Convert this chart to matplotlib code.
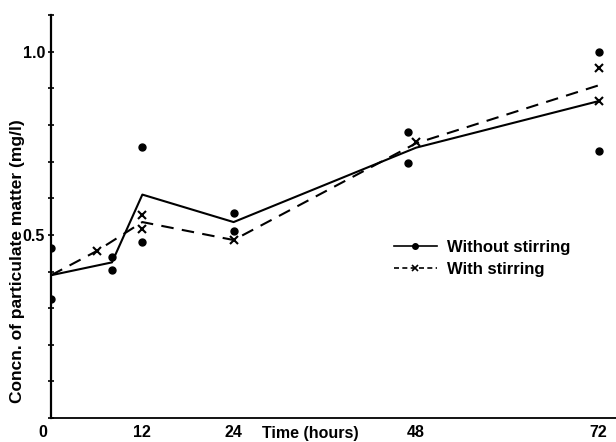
import numpy as np
import matplotlib.pyplot as plt
import matplotlib.transforms as mtransforms
from matplotlib.ticker import MultipleLocator

# =========================
# DATA
# =========================

# individual measurements, without stirring (dots)
dot_hours = [0, 0, 8, 8, 12, 12, 24, 24, 47, 47, 72, 72]
dot_conc = [0.465, 0.325, 0.44, 0.405, 0.74, 0.48, 0.56, 0.51, 0.78, 0.695, 1.0, 0.73]

# individual measurements, with stirring (crosses)
cross_hours = [6, 12, 12, 24, 48, 72, 72]
cross_conc = [0.456, 0.555, 0.516, 0.486, 0.754, 0.956, 0.866]

# mean lines
solid_hours = [0, 8, 12, 24, 48, 72]
solid_conc = [0.39, 0.425, 0.61, 0.535, 0.738, 0.865]

dashed_hours = [0, 6, 12, 24, 48, 72]
dashed_conc = [0.39, 0.456, 0.535, 0.486, 0.75, 0.908]

x_ticks = [0, 12, 24, 48, 72]
y_ticks = [0, 0.5, 1.0]
y_tick_labels = ["", "0.5", "1.0"]

# =========================
# PLOT
# =========================

plt.rcParams['font.family'] = ['Liberation Sans', 'DejaVu Sans']
plt.rcParams['font.weight'] = 'bold'

fig = plt.figure(figsize=(6.16, 4.42), dpi=100)
ax = fig.add_axes([0.083, 0.054, 0.917, 0.912])

ax.plot(solid_hours, solid_conc, color='black', lw=1.5)
ax.plot(dashed_hours, dashed_conc, color='black', lw=1.5, dashes=(6, 4))
ax.plot(dot_hours, dot_conc, 'o', color='black', ms=5, ls='none')
ax.plot(cross_hours, cross_conc, 'x', color='black', ms=6, mew=1.5, ls='none')

# legend handles
h1, = ax.plot([], [], color='black', lw=1.2, marker='o', ms=4)
h2, = ax.plot([], [], color='black', lw=1.2, marker='x', ms=5, mew=1.2, dashes=(3, 2))
ax.legend([h1, h2], ["Without stirring", "With stirring"], loc='upper left',
          bbox_to_anchor=(0.58, 0.48), frameon=False, handlelength=2.6,
          handletextpad=0.6, labelspacing=0.45, prop={'size': 12, 'weight': 'bold'})

ax.set_xlim(0, 74.3)
ax.set_ylim(0, 1.10)

ax.spines['top'].set_visible(False)
ax.spines['right'].set_visible(False)
ax.spines['left'].set_linewidth(1.6)
ax.spines['bottom'].set_linewidth(1.3)

ax.set_xticks(x_ticks)
ax.set_xticklabels([str(t) for t in x_ticks], fontsize=11.5, fontweight='bold')
ax.tick_params(axis='x', length=0, pad=5)
# the "0" at the origin sits left of the axis, shared by both axes
zero_label = ax.get_xticklabels()[0]
zero_label.set_transform(zero_label.get_transform() +
                         mtransforms.ScaledTranslation(-8 / 100, 0, fig.dpi_scale_trans))

ax.set_yticks(y_ticks)
ax.set_yticklabels(y_tick_labels, fontsize=11.5, fontweight='bold')
ax.yaxis.set_minor_locator(MultipleLocator(0.1))
ax.tick_params(axis='y', which='major', direction='inout', length=5, width=1.2, pad=2)
ax.tick_params(axis='y', which='minor', direction='inout', length=4, width=1.2)

ax.set_xlabel("Time (hours)", fontsize=11.5, fontweight='bold')
ax.xaxis.label.set_va('center')
ax.xaxis.set_label_coords(0.458, -0.037)

ax.set_ylabel("Concn. of particulate matter (mg/l)", fontsize=12.5, fontweight='bold')
ax.yaxis.label.set_va('center')
ax.yaxis.set_label_coords(-0.06, 0.39)

plt.savefig("out.png", dpi=100)
